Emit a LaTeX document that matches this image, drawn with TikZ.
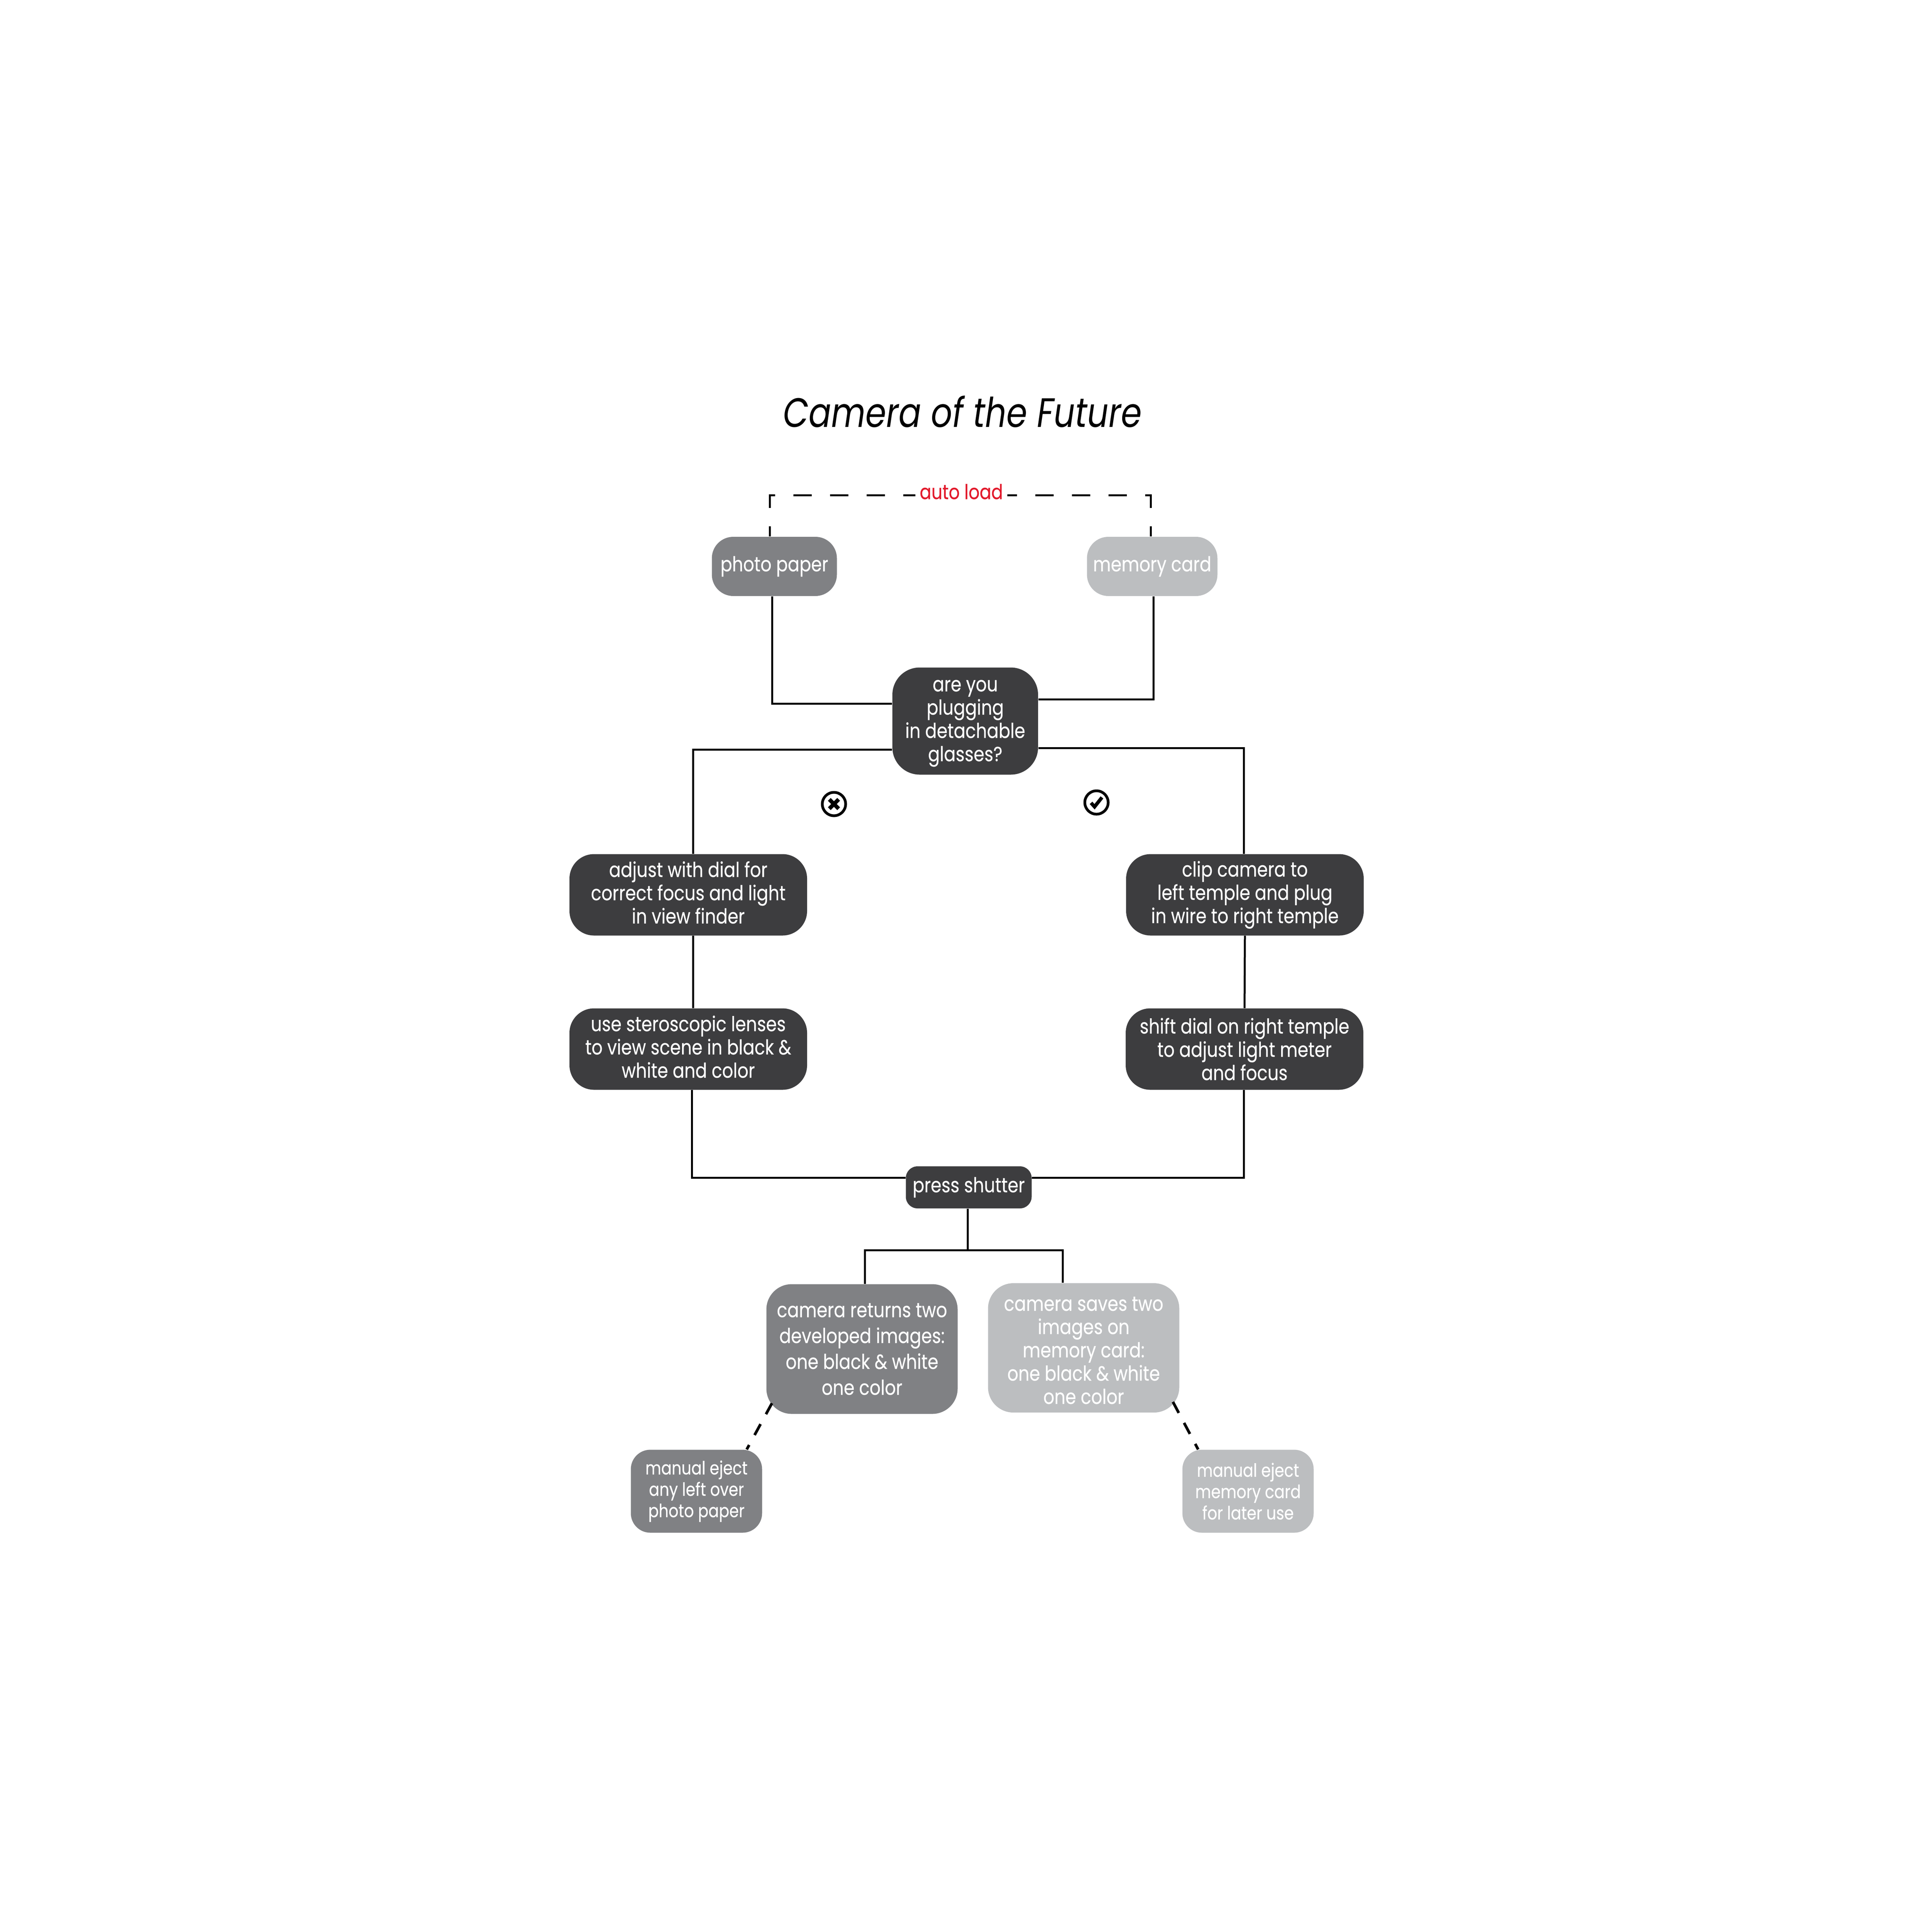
\documentclass[tikz,border=0pt]{standalone}
\usepackage{fontspec}
\setmainfont[FakeStretch=0.84,FakeBold=0.35]{Poppins}
\newfontfamily\titlefont[FakeStretch=0.81]{Poppins}
\usetikzlibrary{shapes.geometric, arrows}
\definecolor{darkgrey}{HTML}{3D3D3F}
\definecolor{midgrey}{HTML}{808184}
\definecolor{lightgrey}{HTML}{BCBEC0}
\definecolor{loadred}{HTML}{E2192B}
\tikzstyle{box} = [rectangle, rounded corners=0.55cm, inner sep=0pt, align=center, text=white, font=\fontsize{15}{17}\selectfont]
\tikzstyle{darkbox} = [box, fill=darkgrey]
\tikzstyle{midbox} = [box, fill=midgrey]
\tikzstyle{lightbox} = [box, fill=lightgrey]
\tikzstyle{stepbox} = [darkbox, minimum width=6.1cm, minimum height=2.09cm, rounded corners=0.63cm]
\tikzstyle{ejectbox} = [minimum width=3.37cm, minimum height=2.13cm, rounded corners=0.5cm, font=\fontsize{13.4}{15.6}\selectfont]
\tikzstyle{link} = [line width=0.05cm]
\tikzstyle{dashlink} = [line width=0.05cm, dash pattern=on 0.47cm off 0.47cm, dash phase=0.21cm]
\tikzstyle{ejectlink} = [line width=0.07cm, dash pattern=on 0.32cm off 0.29cm]
\tikzstyle{iconring} = [circle, draw, line width=0.07cm, minimum size=0.6cm, inner sep=0pt]
\begin{document}
\begin{tikzpicture}
            \useasboundingbox (0,0) rectangle (49.6,-49.56);

            \node [font=\fontsize{30}{36}\selectfont\titlefont\itshape, inner sep=0pt] at (24.71,-10.57) (title) {Camera of the Future};
            \node [text=loadred, font=\fontsize{15}{17}\selectfont, inner xsep=0.1cm, inner ysep=0pt] at (24.68,-12.62) (autoload) {auto load};

            \node [midbox, minimum width=3.21cm, minimum height=1.52cm] at (19.88,-14.54) (photo) {photo paper};
            \node [lightbox, minimum width=3.35cm, minimum height=1.52cm] at (29.58,-14.54) (memory) {memory card};
            \node [darkbox, minimum width=3.74cm, minimum height=2.75cm, rounded corners=0.7cm] at (24.78,-18.51) (ask) {\rule{0pt}{11.7pt}are you\\plugging\\in detachable\\glasses?};

            \node [iconring] at (21.41,-20.64) (no) {};
            \node [iconring] at (28.15,-20.60) (yes) {};

            \node [stepbox] at (17.67,-22.97) (adjust) {adjust with dial for\\correct focus and light\\in view finder\par\vspace*{0.12cm}};
            \node [stepbox] at (17.67,-26.93) (lenses) {use steroscopic lenses\\to view scene in black \&\\white and color\par\vspace*{0.12cm}};
            \node [stepbox] at (31.96,-22.97) (clip) {clip camera to\\left temple and plug\\in wire to right temple};
            \node [stepbox] at (31.95,-26.93) (shift) {shift dial on right temple\\to adjust light meter\\and focus};
            \node [darkbox, minimum width=3.23cm, minimum height=1.08cm, rounded corners=0.3cm] at (24.87,-30.48) (press) {press shutter};

            \coordinate (split) at (24.84,-32.09);

            \node [midbox, minimum width=4.91cm, minimum height=3.33cm, rounded corners=0.65cm, font=\fontsize{15}{18.9}\selectfont] at (22.13,-34.63) (returns) {camera returns two\\developed images:\\one black \& white\\one color};
            \node [lightbox, minimum width=4.91cm, minimum height=3.32cm, rounded corners=0.65cm] at (27.82,-34.60) (saves) {\rule{0pt}{14pt}camera saves two\\images on\\memory card:\\one black \& white\\one color};
            \node [midbox, ejectbox] at (17.88,-38.28) (ejectpaper) {manual eject\\any left over\\photo paper};
            \node [lightbox, ejectbox] at (32.04,-38.28) (ejectcard) {manual eject\\memory card\\for later use};

            \draw [dashlink] ([xshift=-0.12cm]photo.north) |- ([yshift=-0.09cm]autoload.west);
            \draw [dashlink] ([xshift=-0.04cm]memory.north) |- ([yshift=-0.09cm]autoload.east);

            \draw [link] ([xshift=-0.06cm]photo.south) |- ([yshift=0.45cm]ask.west);
            \draw [link] ([xshift=0.03cm]memory.south) |- ([yshift=0.56cm]ask.east);
            \draw [link] ([yshift=-0.73cm]ask.west) -| ([xshift=0.12cm]adjust.north);
            \draw [link] ([yshift=-0.69cm]ask.east) -| ([xshift=-0.03cm]clip.north);
            \draw [link] ([xshift=0.12cm]adjust.south) -- ([xshift=0.12cm]lenses.north);
            \draw [link] (clip.south) -- (shift.north);
            \draw [link] ([xshift=0.09cm]lenses.south) |- ([yshift=0.25cm]press.west);
            \draw [link] ([xshift=-0.02cm]shift.south) |- ([yshift=0.25cm]press.east);
            \draw [link] ([xshift=-0.03cm]press.south) -- (split);
            \draw [link] ([xshift=0.07cm]returns.north) |- (split);
            \draw [link] ([xshift=-0.54cm]saves.north) |- (split);

            \draw [ejectlink] ([xshift=0.15cm,yshift=0.28cm]returns.south west) -- ([xshift=1.29cm]ejectpaper.north);
            \draw [ejectlink] ([xshift=-0.17cm,yshift=0.28cm]saves.south east) -- ([xshift=-1.28cm]ejectcard.north);

            \draw [line width=0.1cm] ([shift={(-0.12,-0.12)}]no.center) -- ([shift={(0.12,0.12)}]no.center);
            \draw [line width=0.1cm] ([shift={(-0.12,0.12)}]no.center) -- ([shift={(0.12,-0.12)}]no.center);
            \draw [line width=0.09cm] ([shift={(-0.14,-0.01)}]yes.center) -- ([shift={(-0.05,-0.11)}]yes.center) -- ([shift={(0.14,0.13)}]yes.center);
\end{tikzpicture}
\end{document}
